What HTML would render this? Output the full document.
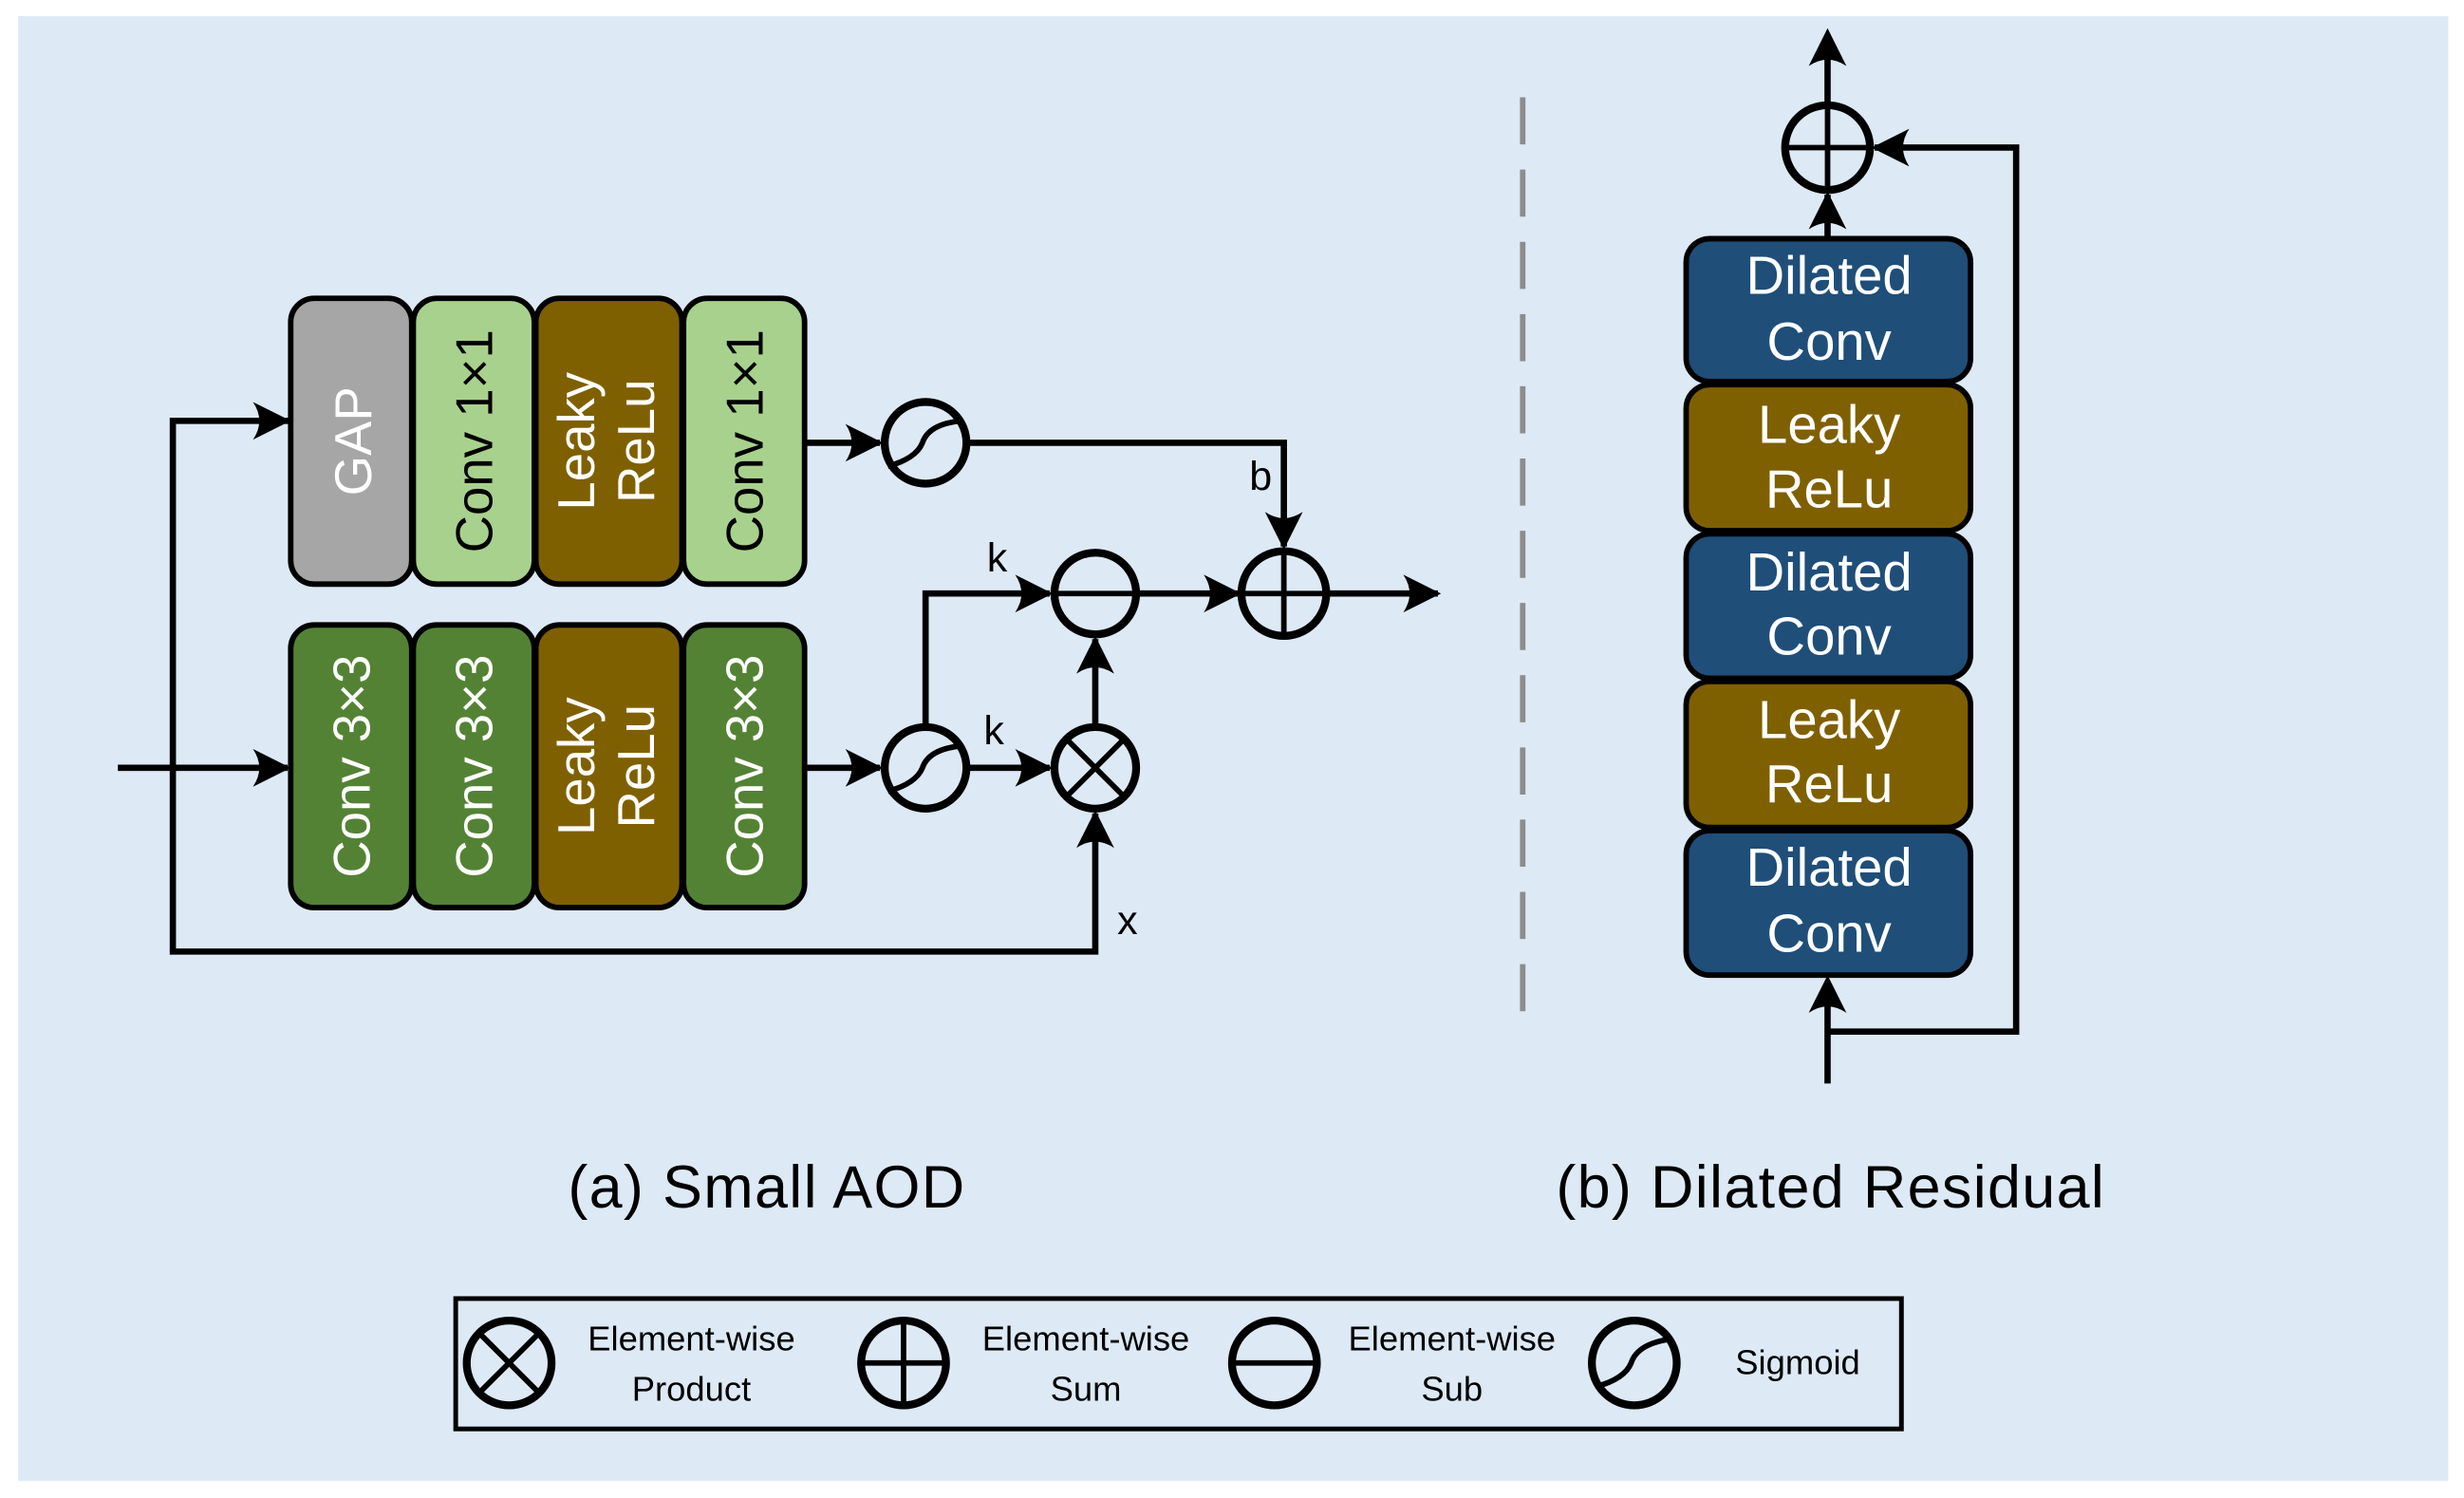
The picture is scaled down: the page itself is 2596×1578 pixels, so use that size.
<!DOCTYPE html>
<html><head><meta charset="utf-8"><style>
html,body{margin:0;padding:0;background:#fff;}
svg{display:block;}
text{font-family:"Liberation Sans",sans-serif;}
</style></head><body>
<svg width="2596" height="1578" viewBox="0 0 1568 954" preserveAspectRatio="none" xmlns="http://www.w3.org/2000/svg">
<defs>
<path id="ar" d="M0 0 L-24 -12 Q-16 0 -24 12 Z" fill="#000"/>
</defs>
<rect x="11.5" y="10.3" width="1546.5" height="932.7" fill="#dde9f5"/>

<g stroke="#000" stroke-width="3.5">
<rect x="185" y="190" width="77" height="182" rx="15" fill="#a6a6a6"/>
<rect x="263" y="190" width="77" height="182" rx="15" fill="#a9d18e"/>
<rect x="341" y="190" width="93" height="182" rx="15" fill="#7f6000"/>
<rect x="435" y="190" width="77" height="182" rx="15" fill="#a9d18e"/>
<rect x="185" y="398" width="77" height="180" rx="15" fill="#548235"/>
<rect x="263" y="398" width="77" height="180" rx="15" fill="#548235"/>
<rect x="341" y="398" width="93" height="180" rx="15" fill="#7f6000"/>
<rect x="435" y="398" width="77" height="180" rx="15" fill="#548235"/>
</g>
<g font-size="33" text-anchor="middle" dominant-baseline="central">
<text transform="translate(225,281) rotate(-90)" fill="#fff">GAP</text>
<text transform="translate(302,281) rotate(-90)" fill="#000">Conv 1×1</text>
<text transform="translate(367,281) rotate(-90)" fill="#fff">Leaky</text>
<text transform="translate(405,281) rotate(-90)" fill="#fff">ReLu</text>
<text transform="translate(474,281) rotate(-90)" fill="#000">Conv 1×1</text>
<text transform="translate(224,488) rotate(-90)" fill="#fff">Conv 3×3</text>
<text transform="translate(302,488) rotate(-90)" fill="#fff">Conv 3×3</text>
<text transform="translate(367,488) rotate(-90)" fill="#fff">Leaky</text>
<text transform="translate(405,488) rotate(-90)" fill="#fff">ReLu</text>
<text transform="translate(474,488) rotate(-90)" fill="#fff">Conv 3×3</text>
</g>

<g stroke="#000" stroke-width="4" fill="none">
<polyline points="75,489 183,489"/>
<polyline points="185,268 110,268 110,606 697,606 697,518"/>
<polyline points="512,282 560,282"/>
<polyline points="616,282 817,282 817,348"/>
<polyline points="512,489 560,489"/>
<polyline points="616,489 668,489"/>
<polyline points="589,462 589,378 668,378"/>
<polyline points="697,462 697,407"/>
<polyline points="724,378 788,378"/>
<polyline points="845,378 915,378"/>
</g>
<use href="#ar" transform="translate(185,489)"/>
<use href="#ar" transform="translate(185,268)"/>
<use href="#ar" transform="translate(562,282)"/>
<use href="#ar" transform="translate(562,489)"/>
<use href="#ar" transform="translate(670,489)"/>
<use href="#ar" transform="translate(670,378)"/>
<use href="#ar" transform="translate(790,378)"/>
<use href="#ar" transform="translate(917,378)"/>
<use href="#ar" transform="translate(817,350) rotate(90)"/>
<use href="#ar" transform="translate(697,405) rotate(-90)"/>
<use href="#ar" transform="translate(697,516) rotate(-90)"/>

<g stroke="#000" stroke-width="5" fill="#dde9f5">
<circle cx="589" cy="282" r="26"/>
<circle cx="589" cy="489" r="26"/>
<circle cx="697" cy="378" r="26"/>
<circle cx="697" cy="489" r="26"/>
<circle cx="817" cy="378" r="27"/>
</g>
<g stroke="#000" stroke-width="3.5" fill="none">
<path d="M565 297 Q583 292 587 282 Q591 270 612 268"/>
<path d="M565 504 Q583 499 587 489 Q591 477 612 475"/>
<line x1="671" y1="378" x2="723" y2="378"/>
<line x1="679" y1="471" x2="715" y2="507"/>
<line x1="715" y1="471" x2="679" y2="507"/>
<line x1="790" y1="378" x2="844" y2="378"/>
<line x1="817" y1="351" x2="817" y2="405"/>
</g>
<g font-size="26" fill="#000">
<text x="795" y="312">b</text>
<text x="628" y="364">k</text>
<text x="626" y="474">k</text>
<text x="711" y="595">x</text>
</g>

<line x1="969" y1="62" x2="969" y2="645" stroke="#8c8c8c" stroke-width="3.5" stroke-dasharray="30,16"/>

<g stroke="#000" stroke-width="3.5">
<rect x="1073" y="152" width="181" height="91" rx="15" fill="#1f4e79"/>
<rect x="1073" y="245" width="181" height="93" rx="15" fill="#7f6000"/>
<rect x="1073" y="340" width="181" height="92" rx="15" fill="#1f4e79"/>
<rect x="1073" y="434" width="181" height="93" rx="15" fill="#7f6000"/>
<rect x="1073" y="529" width="181" height="92" rx="15" fill="#1f4e79"/>
</g>
<g font-size="34" fill="#fff" text-anchor="middle">
<text x="1164" y="187">Dilated</text><text x="1164" y="229">Conv</text>
<text x="1164" y="282">Leaky</text><text x="1164" y="323">ReLu</text>
<text x="1164" y="376">Dilated</text><text x="1164" y="417">Conv</text>
<text x="1164" y="470">Leaky</text><text x="1164" y="511">ReLu</text>
<text x="1164" y="564">Dilated</text><text x="1164" y="606">Conv</text>
</g>
<g stroke="#000" stroke-width="4" fill="none">
<polyline points="1163,690 1163,625"/>
<polyline points="1163,657 1283,657 1283,94 1193,94"/>
<polyline points="1163,152 1163,124"/>
<polyline points="1163,66 1163,22"/>
</g>
<use href="#ar" transform="translate(1163,621) rotate(-90)"/>
<use href="#ar" transform="translate(1163,122) rotate(-90)"/>
<use href="#ar" transform="translate(1163,18) rotate(-90)"/>
<use href="#ar" transform="translate(1191,94) rotate(180)"/>
<circle cx="1163" cy="94" r="27" stroke="#000" stroke-width="5" fill="none"/>
<g stroke="#000" stroke-width="3.5">
<line x1="1136" y1="94" x2="1190" y2="94"/>
<line x1="1163" y1="67" x2="1163" y2="121"/>
</g>

<g font-size="38" fill="#000" text-anchor="middle" letter-spacing="0.8">
<text x="488" y="769">(a) Small AOD</text>
<text x="1165" y="769">(b) Dilated Residual</text>
</g>

<rect x="290" y="827" width="920" height="83" fill="none" stroke="#000" stroke-width="3"/>
<g stroke="#000" stroke-width="5" fill="none">
<circle cx="324" cy="868" r="27"/>
<circle cx="575" cy="868" r="27"/>
<circle cx="811" cy="868" r="27"/>
<circle cx="1040" cy="868" r="27"/>
</g>
<g stroke="#000" stroke-width="3.5" fill="none">
<line x1="305" y1="849" x2="343" y2="887"/>
<line x1="343" y1="849" x2="305" y2="887"/>
<line x1="548" y1="868" x2="602" y2="868"/>
<line x1="575" y1="841" x2="575" y2="895"/>
<line x1="784" y1="868" x2="838" y2="868"/>
<path d="M1016 883 Q1034 878 1038 868 Q1042 856 1062 853"/>
</g>
<g font-size="22" fill="#000" text-anchor="middle">
<text x="440" y="860">Element-wise</text><text x="440" y="892">Product</text>
<text x="691" y="860">Element-wise</text><text x="691" y="892">Sum</text>
<text x="924" y="860">Element-wise</text><text x="924" y="892">Sub</text>
<text x="1144" y="875">Sigmoid</text>
</g>
</svg>
</body></html>
